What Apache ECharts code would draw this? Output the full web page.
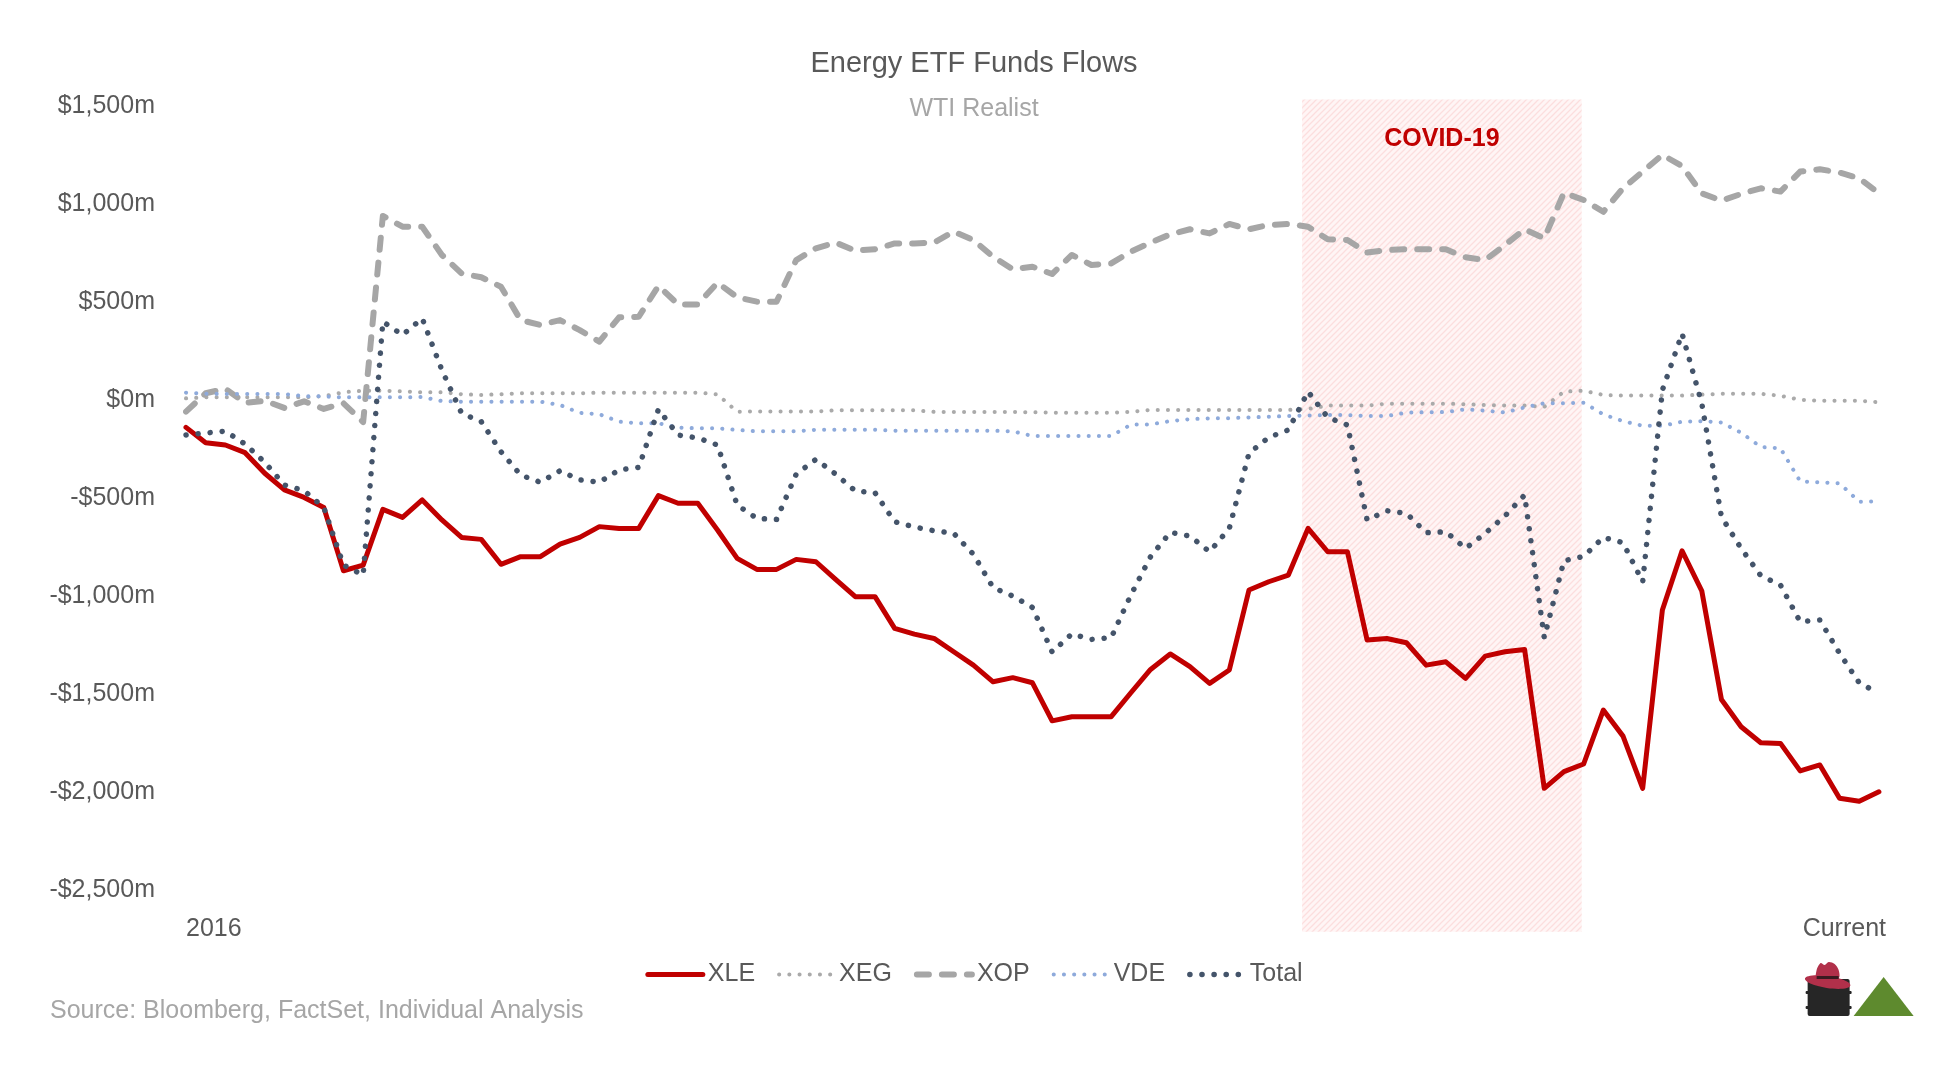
<!DOCTYPE html>
<html>
<head>
<meta charset="utf-8">
<script src="https://cdn.jsdelivr.net/npm/echarts@6/dist/echarts.min.js"></script>
<style>
html,body{margin:0;padding:0;background:#fff;}
#chart{width:1948px;height:1079px;}
</style>
</head>
<body>
<div id="chart"></div>
<script>
// ---- data (values in $m, one point per period from 2016 to Current) ----
const xTickLabels = ['2016', 'Current'];
const yTicks = [1500, 1000, 500, 0, -500, -1000, -1500, -2000, -2500];
const seriesNames = ['XLE', 'XEG', 'XOP', 'VDE', 'Total'];

const xle = [-139,-217,-229,-268,-373,-458,-496,-547,-870,-841,
  -557,-598,-509,-611,-700,-710,-837,-798,-798,-734,
  -700,-645,-654,-654,-487,-526,-526,-662,-807,-863,
  -863,-812,-824,-914,-1002,-1002,-1164,-1193,-1215,-1283,
  -1351,-1436,-1415,-1441,-1635,-1614,-1614,-1614,-1492,-1373,
  -1294,-1359,-1444,-1376,-968,-926,-892,-654,-773,-773,
  -1223,-1215,-1237,-1351,-1334,-1419,-1305,-1283,-1271,-1979,
  -1894,-1855,-1580,-1713,-1979,-1070,-768,-972,-1526,-1665,
  -1747,-1750,-1890,-1860,-2030,-2045,-1997];

const xeg = [9,14,14,14,14,14,14,20,40,48,
  48,45,40,40,30,26,30,35,35,35,
  35,38,38,38,38,38,38,29,-59,-58,
  -58,-58,-58,-52,-52,-52,-52,-52,-60,-60,
  -60,-60,-60,-62,-64,-64,-64,-64,-60,-50,
  -50,-50,-50,-50,-50,-50,-50,-45,-28,-28,
  -28,-18,-18,-18,-18,-21,-25,-27,-28,-34,
  43,48,26,23,23,23,23,28,32,32,
  32,22,2,-3,-3,-3,-11];

const xop = [-59,35,58,-14,-3,-40,-6,-45,-16,-112,
  939,884,884,740,646,626,578,408,383,408,
  357,298,422,425,582,488,488,599,524,502,
  502,714,774,803,762,769,799,799,803,859,
  816,731,667,680,643,740,689,697,757,803,
  845,871,850,898,871,893,898,884,820,816,
  752,765,769,769,769,728,714,790,871,825,
  1057,1020,960,1080,1165,1250,1193,1054,1017,1051,
  1080,1063,1165,1177,1160,1131,1054];

const vde = [38,33,31,31,31,31,20,19,14,14,
  14,14,16,-5,-8,-8,-8,-8,-8,-25,
  -65,-72,-110,-118,-118,-140,-144,-144,-152,-159,
  -159,-159,-151,-151,-151,-151,-156,-156,-156,-156,
  -156,-156,-159,-183,-183,-183,-183,-183,-125,-124,
  -107,-97,-93,-92,-88,-85,-81,-78,-76,-76,
  -81,-81,-64,-62,-61,-47,-54,-63,-37,-16,
  -16,-13,-73,-107,-131,-131,-110,-107,-114,-166,
  -239,-246,-414,-419,-424,-518,-516];

const total = [-178,-168,-158,-224,-317,-433,-462,-547,-841,-892,
  400,332,417,153,-67,-110,-263,-382,-419,-360,
  -407,-418,-356,-343,-47,-178,-193,-229,-535,-603,
  -608,-377,-302,-377,-463,-472,-620,-647,-666,-679,
  -786,-956,-999,-1057,-1284,-1192,-1220,-1211,-994,-798,
  -674,-693,-773,-654,-271,-190,-152,43,-88,-127,
  -611,-564,-577,-676,-671,-756,-679,-591,-484,-1211,
  -819,-797,-700,-727,-927,51,339,-16,-595,-756,
  -895,-943,-1130,-1121,-1291,-1441,-1495];

// COVID-19 period, in period-index units
const covidStart = 56.7;
const covidEnd = 70.9;

// ---- chart ----
const FONT = '"Liberation Sans", Arial, sans-serif';
const lastIdx = xle.length - 1;
const xMax = lastIdx + 0.36;

function pts(arr) { return arr.map((v, i) => [i, v]); }

function fmtY(v) {
  const a = Math.abs(v).toString().replace(/\B(?=(\d{3})+(?!\d))/g, ',');
  return (v < 0 ? '-$' : '$') + a + 'm';
}

// hatch pattern for the COVID band
const pc = document.createElement('canvas');
pc.width = 6; pc.height = 6;
const g = pc.getContext('2d');
g.fillStyle = '#fff5f5';
g.fillRect(0, 0, 6, 6);
g.strokeStyle = '#fcdede';
g.lineWidth = 1.3;
g.beginPath();
g.moveTo(-1, 7); g.lineTo(7, -1);
g.moveTo(-1, 1); g.lineTo(1, -1);
g.moveTo(5, 7); g.lineTo(7, 5);
g.stroke();

const chart = echarts.init(document.getElementById('chart'), null, {renderer: 'canvas'});

const styles = {
  XLE:   {color: '#c00000', width: 5,   type: 'solid', cap: 'round'},
  XEG:   {color: '#aaaaaa', width: 4,   type: [0.1, 10.1], cap: 'round'},
  XOP:   {color: '#a6a6a6', width: 6,   type: [12, 13], cap: 'round'},
  VDE:   {color: '#8eaadb', width: 4,   type: [0.1, 10.1], cap: 'round'},
  Total: {color: '#44546a', width: 5.5, type: [0.1, 12], cap: 'round'}
};
const dataMap = {XLE: xle, XEG: xeg, XOP: xop, VDE: vde, Total: total};

const series = seriesNames.map(name => {
  const s = {
    name: name,
    type: 'line',
    data: pts(dataMap[name]),
    symbol: 'none',
    showSymbol: false,
    smooth: false,
    color: styles[name].color,
    lineStyle: {
      color: styles[name].color,
      width: styles[name].width,
      type: styles[name].type,
      cap: styles[name].cap,
      join: 'round'
    },
    emphasis: {disabled: true},
    animation: false
  };
  if (name === 'XLE') {
    s.markArea = {
      silent: true,
      itemStyle: {color: {image: pc, repeat: 'repeat'}},
      label: {
        show: true,
        position: 'insideTop',
        distance: 27,
        color: '#c00000',
        fontWeight: 'bold',
        fontSize: 25,
        fontFamily: FONT
      },
      data: [[{name: 'COVID-19', xAxis: covidStart}, {xAxis: covidEnd}]]
    };
  }
  return s;
});

const legendData = seriesNames.map(name => ({
  name: name,
  itemStyle: {opacity: 0},
  lineStyle: {
    color: styles[name].color,
    width: styles[name].width,
    type: styles[name].type,
    cap: styles[name].cap,
    opacity: 1
  }
}));

const option = {
  backgroundColor: '#ffffff',
  animation: false,
  textStyle: {fontFamily: FONT},
  title: {
    text: 'Energy ETF Funds Flows',
    subtext: 'WTI Realist',
    left: 'center',
    top: 44,
    itemGap: 17,
    textStyle: {fontSize: 29, color: '#595959', fontWeight: 'normal', fontFamily: FONT, lineHeight: 30},
    subtextStyle: {fontSize: 25, color: '#a6a6a6', fontFamily: FONT, lineHeight: 26}
  },
  legend: {
    data: legendData,
    left: 'center',
    top: 957,
    itemWidth: 55,
    itemHeight: 14,
    itemGap: 22,
    itemStyle: {opacity: 0},
    textStyle: {fontSize: 25, color: '#595959', fontFamily: FONT}
  },
  grid: {left: 186, right: 62, top: 99.4, bottom: 147.3, containLabel: false},
  xAxis: {
    type: 'value',
    min: 0,
    max: xMax,
    axisLine: {show: false},
    axisTick: {show: false},
    splitLine: {show: false},
    axisLabel: {
      customValues: [0, xMax],
      formatter: v => (v < 1 ? xTickLabels[0] : xTickLabels[1]),
      alignMinLabel: 'left',
      alignMaxLabel: 'right',
      showMinLabel: true,
      showMaxLabel: true,
      margin: -15,
      fontSize: 25,
      color: '#595959',
      fontFamily: FONT
    }
  },
  yAxis: {
    type: 'value',
    min: -2710,
    max: 1533,
    axisLine: {show: false},
    axisTick: {show: false},
    splitLine: {show: false},
    axisLabel: {
      customValues: yTicks,
      formatter: fmtY,
      margin: 31,
      fontSize: 25,
      color: '#595959',
      fontFamily: FONT
    }
  },
  graphic: [
    {
      type: 'text',
      left: 50,
      top: 999,
      style: {text: 'Source: Bloomberg, FactSet, Individual Analysis', fill: '#a6a6a6', fontSize: 25, fontFamily: FONT}
    },
    {
      type: 'group',
      left: 1804,
      top: 962,
      children: [
        {type: 'rect', shape: {x: 3, y: 18, width: 42, height: 37, r: 2}, style: {fill: '#262626'}},
        {type: 'rect', shape: {x: 1, y: 30, width: 46, height: 3, r: 1}, style: {fill: '#262626'}},
        {type: 'rect', shape: {x: 1, y: 45, width: 46, height: 3, r: 1}, style: {fill: '#262626'}},
        {type: 'ellipse', shape: {cx: 23, cy: 21, rx: 23, ry: 6}, rotation: -0.15, originX: 23, originY: 21, style: {fill: '#b1304a'}},
        {type: 'polygon', shape: {points: [[12, 19], [12, 9], [16, 2], [20, 4], [24, 1], [30, 3], [34, 9], [34, 17]], smooth: 0.3}, style: {fill: '#b1304a'}},
        {type: 'rect', shape: {x: 12, y: 15, width: 22, height: 3}, style: {fill: '#3a1a20'}},
        {type: 'polygon', shape: {points: [[49, 55], [79, 16], [109, 55]]}, style: {fill: '#5e8a2e'}}
      ]
    }
  ],
  series: series
};

chart.setOption(option);
</script>
</body>
</html>
